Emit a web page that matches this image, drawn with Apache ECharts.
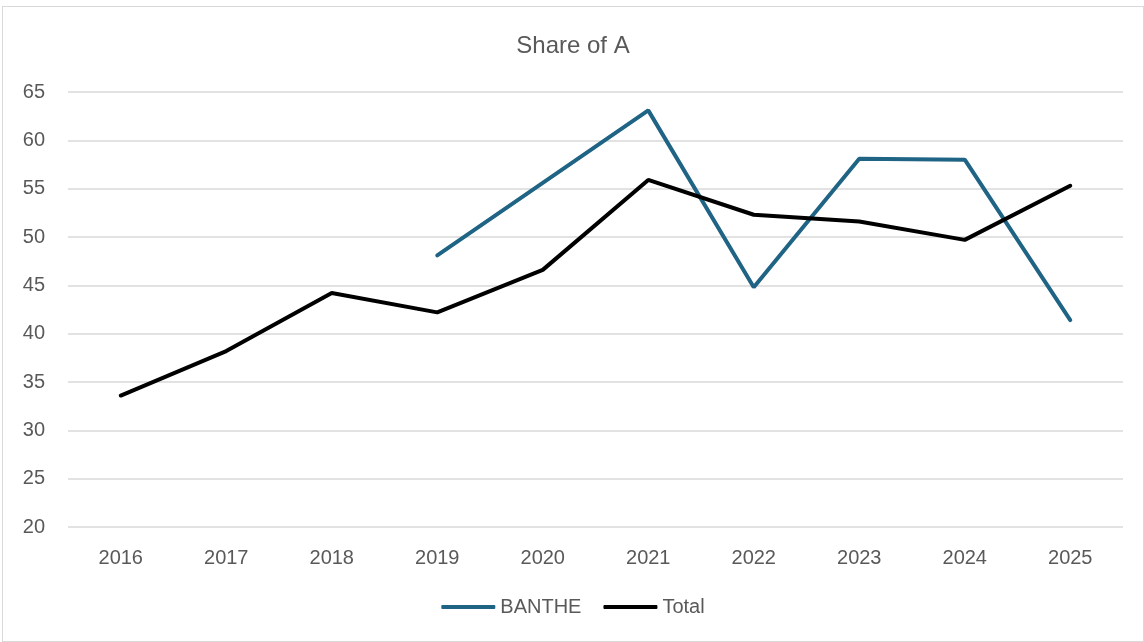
<!DOCTYPE html>
<html>
<head>
<meta charset="utf-8">
<script src="https://cdn.jsdelivr.net/npm/echarts@6/dist/echarts.min.js"></script>
<style>
    html, body { margin: 0; padding: 0; background: #fff; }
    #main { position: absolute; left: 2px; top: 6px; width: 1142px; height: 636px; border: 1px solid #d9d9d9; box-sizing: border-box; }
</style>
</head>
<body>
<div id="main"></div>
<script>
var years = ['2016', '2017', '2018', '2019', '2020', '2021', '2022', '2023', '2024', '2025'];
var bantheValues = [null, null, null, 48.1, 55.6, 63.1, 44.8, 58.1, 58.0, 41.4];
var totalValues = [33.6, 38.2, 44.2, 42.2, 46.6, 55.9, 52.3, 51.6, 49.7, 55.3];

/**
 * Share of A
 */
var myChart = echarts.init(document.getElementById('main'));
var font = '"Liberation Sans", Arial, sans-serif';
myChart.setOption({
    animation: false,
    title: {
        text: 'Share of A',
        left: 'center',
        top: 22,
        textStyle: { color: '#595959', fontSize: 24, fontWeight: 'normal', fontFamily: font }
    },
    legend: {
        bottom: 19,
        left: 'center',
        icon: 'roundRect',
        itemWidth: 54,
        itemHeight: 4,
        itemGap: 22,
        textStyle: { color: '#595959', fontSize: 20, fontFamily: font },
        data: ['BANTHE', 'Total']
    },
    grid: {
        left: 65,
        right: 20,
        top: 85,
        bottom: 114
    },
    xAxis: {
        type: 'category',
        data: years,
        boundaryGap: true,
        axisLine: { show: false },
        axisTick: { show: false },
        axisLabel: { color: '#595959', fontSize: 20, margin: 21, fontFamily: font }
    },
    yAxis: {
        type: 'value',
        min: 20,
        max: 65,
        interval: 5,
        axisLine: { show: false },
        axisTick: { show: false },
        axisLabel: { color: '#595959', fontSize: 20, margin: 23, fontFamily: font },
        splitLine: { lineStyle: { color: '#d9d9d9', width: 1.5 } }
    },
    series: [
        {
            name: 'BANTHE',
            type: 'line',
            data: bantheValues,
            symbol: 'none',
            connectNulls: false,
            lineStyle: { color: '#1f6485', width: 4, cap: 'round' },
            itemStyle: { color: '#1f6485' }
        },
        {
            name: 'Total',
            type: 'line',
            data: totalValues,
            symbol: 'none',
            lineStyle: { color: '#000000', width: 4, cap: 'round' },
            itemStyle: { color: '#000000' }
        }
    ]
});
</script>
</body>
</html>
